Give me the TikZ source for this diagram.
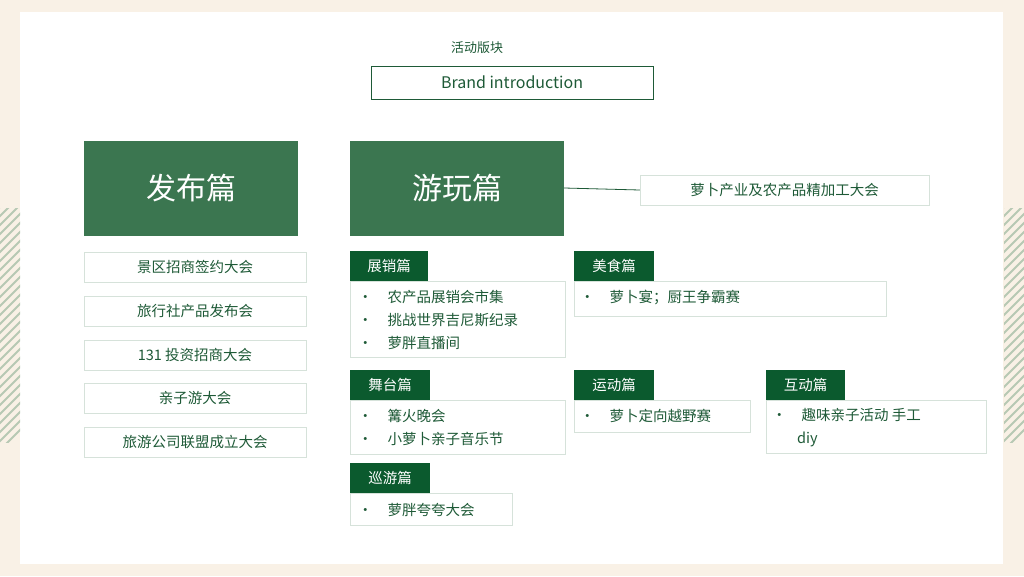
\documentclass[tikz,border=0pt]{standalone}
\usepackage{fontspec}
\setmainfont{Noto Sans CJK SC}
\begin{document}
\begin{tikzpicture}[x=1pt,y=-1pt,
  big/.style={fill=bigg,text=white,font=\fontsize{30}{32}\selectfont,inner sep=0},
  lbox/.style={draw=lineg,fill=white,text=txtg,font=\fontsize{14.5}{16}\selectfont,inner sep=0},
  tag/.style={fill=tagg,text=white,font=\fontsize{14.5}{16}\selectfont,inner sep=0},
  cbox/.style={draw=lineg,fill=white,text=txtg,font=\fontsize{14.5}{20}\selectfont,inner sep=0},
  itm/.style={text=txtg,font=\fontsize{14.5}{16}\selectfont,anchor=west,inner sep=0}]
\definecolor{bigg}{HTML}{3B7650}
\definecolor{tagg}{HTML}{0B5A2E}
\definecolor{txtg}{HTML}{1E5A37}
\definecolor{lineg}{HTML}{D6E2DA}
\definecolor{cream}{HTML}{F9F1E6}
\definecolor{hatch}{HTML}{B7C9B4}
\fill[cream] (0,0) rectangle (1024,576);
\useasboundingbox (0,0) rectangle (1024,576);
\fill[white] (20,12) rectangle (1003,564);
\begin{scope}
\clip (0,208) rectangle (20,442);
\foreach \i in {0,9,...,260} \draw[hatch,line width=2pt] (-10,208+\i) -- (30,168+\i);
\end{scope}
\begin{scope}
\clip (1004,208) rectangle (1024,442);
\foreach \i in {0,9,...,260} \draw[hatch,line width=2pt] (994,208+\i) -- (1034,168+\i);
\end{scope}
\node[text=txtg,font=\fontsize{13}{15}\selectfont] (t) at (477,48) {活动版块};
\node[draw=txtg,line width=1pt,minimum width=282pt,minimum height=33pt,text=txtg,font=\fontsize{16}{18}\selectfont,inner sep=0] (brand) at (512,82.5) {Brand introduction};
\node[big,minimum width=214pt,minimum height=95pt] (fb) at (191,188.5) {发布篇};
\node[big,minimum width=214pt,minimum height=95pt] (yw) at (457,188.5) {游玩篇};
\node[lbox,minimum width=289pt,minimum height=30pt] (lb) at (784.5,190) {萝卜产业及农产品精加工大会};
\draw[txtg,line width=0.8pt] (yw.east|-457,188) -- (lb.west);
\foreach \y/\t [count=\k] in {267/景区招商签约大会,311/旅行社产品发布会,355/131 投资招商大会,398/亲子游大会,442/旅游公司联盟成立大会}
  \node[lbox,minimum width=222pt,minimum height=30pt] (l\k) at (195,\y) {\t};
% content boxes
\node[cbox,minimum width=215pt,minimum height=76pt] (c1) at (457.5,319) {};
\node[tag,minimum width=78pt,minimum height=30pt] (g1) at (389,266) {展销篇};
\node[itm] (i11) at (358,297) {•\hspace{15pt}农产品展销会市集};
\node[itm] (i12) at (358,320) {•\hspace{15pt}挑战世界吉尼斯纪录};
\node[itm] (i13) at (358,343) {•\hspace{15pt}萝胖直播间};
\node[cbox,minimum width=312pt,minimum height=35pt] (c2) at (730,298.5) {};
\node[tag,minimum width=80pt,minimum height=30pt] (g2) at (614,266) {美食篇};
\node[itm] (i21) at (580,297) {•\hspace{15pt}萝卜宴；厨王争霸赛};
\node[cbox,minimum width=215pt,minimum height=54pt] (c3) at (457.5,427) {};
\node[tag,minimum width=80pt,minimum height=30pt] (g3) at (390,385) {舞台篇};
\node[itm] (i31) at (358,416) {•\hspace{15pt}篝火晚会};
\node[itm] (i32) at (358,439) {•\hspace{15pt}小萝卜亲子音乐节};
\node[cbox,minimum width=176pt,minimum height=32pt] (c4) at (662,416) {};
\node[tag,minimum width=80pt,minimum height=30pt] (g4) at (614,385) {运动篇};
\node[itm] (i41) at (580,416) {•\hspace{15pt}萝卜定向越野赛};
\node[cbox,minimum width=220pt,minimum height=53pt] (c5) at (876,426.5) {};
\node[tag,minimum width=79pt,minimum height=30pt] (g5) at (805.5,385) {互动篇};
\node[itm] (i51) at (772,415) {•\hspace{15pt}趣味亲子活动 手工};
\node[itm] (i52) at (797,439) {diy};
\node[cbox,minimum width=162pt,minimum height=32pt] (c6) at (431,509) {};
\node[tag,minimum width=80pt,minimum height=30pt] (g6) at (390,478) {巡游篇};
\node[itm] (i61) at (358,510) {•\hspace{15pt}萝胖夸夸大会};
\end{tikzpicture}
\end{document}
